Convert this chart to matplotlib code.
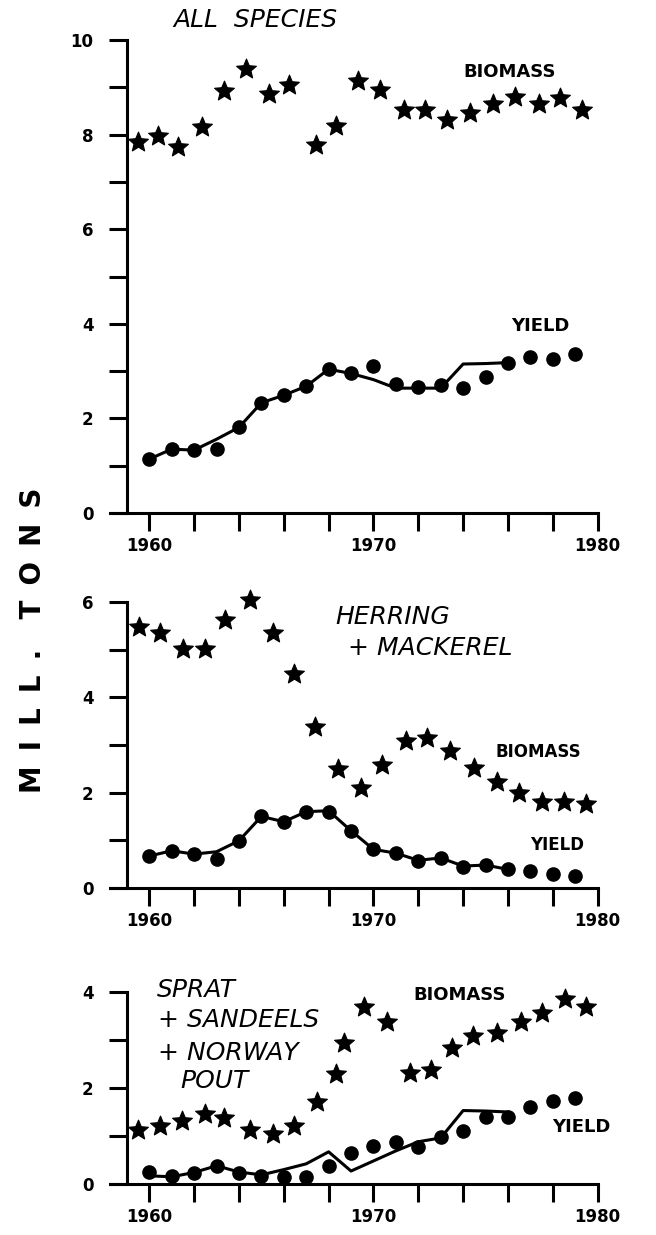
import matplotlib
matplotlib.use("Agg")
import matplotlib.pyplot as plt
from matplotlib.path import Path

W, H = 656, 1235

# data in million tons
yield_years = list(range(1960, 1980))
line_years = list(range(1960, 1977))

# all species
all_bio_x = [1959.5, 1960.4, 1961.3, 1962.35, 1963.35, 1964.3, 1965.35, 1966.25, 1967.45, 1968.35,
             1969.3, 1970.3, 1971.35, 1972.3, 1973.3, 1974.3, 1975.35, 1976.3, 1977.4, 1978.3, 1979.3]
all_bio = [7.85, 7.97, 7.74, 8.17, 8.93, 9.38, 8.86, 9.05, 7.78, 8.18,
           9.14, 8.94, 8.53, 8.52, 8.31, 8.45, 8.65, 8.80, 8.65, 8.77, 8.53]
all_yield = [1.14, 1.35, 1.33, 1.35, 1.81, 2.33, 2.49, 2.68, 3.04, 2.97,
             3.11, 2.73, 2.66, 2.71, 2.64, 2.88, 3.18, 3.29, 3.25, 3.36]
all_line = [1.14, 1.35, 1.33, 1.56, 1.81, 2.33, 2.49, 2.68, 3.04, 2.95,
            2.82, 2.64, 2.64, 2.64, 3.15, 3.16, 3.18]

# herring + mackerel
her_bio_x = [1959.55, 1960.5, 1961.5, 1962.5, 1963.4, 1964.5, 1965.5, 1966.45, 1967.4, 1968.4,
             1969.45, 1970.4, 1971.45, 1972.4, 1973.4, 1974.5, 1975.5, 1976.5, 1977.5, 1978.5, 1979.5]
her_bio = [5.47, 5.35, 5.02, 5.02, 5.63, 6.04, 5.35, 4.49, 3.38, 2.50,
           2.09, 2.57, 3.09, 3.14, 2.88, 2.52, 2.23, 2.00, 1.81, 1.81, 1.76]
her_yield = [0.67, 0.78, 0.71, 0.60, 0.99, 1.50, 1.39, 1.60, 1.60, 1.20,
             0.81, 0.73, 0.57, 0.62, 0.45, 0.48, 0.39, 0.36, 0.29, 0.25]
her_line = [0.67, 0.78, 0.71, 0.76, 0.99, 1.50, 1.39, 1.60, 1.62, 1.20,
            0.81, 0.73, 0.58, 0.63, 0.46, 0.48, 0.39]

# sprat + sandeels + norway pout
spr_bio_x = [1959.5, 1960.5, 1961.45, 1962.5, 1963.35, 1964.5, 1965.5, 1966.45, 1967.5, 1968.35, 1968.7,
             1969.6, 1970.6, 1971.65, 1972.55, 1973.5, 1974.45, 1975.5, 1976.6, 1977.5, 1978.55, 1979.5]
spr_bio = [1.12, 1.21, 1.32, 1.46, 1.38, 1.13, 1.04, 1.21, 1.70, 2.29, 2.93,
           3.68, 3.38, 2.32, 2.38, 2.83, 3.08, 3.14, 3.38, 3.57, 3.85, 3.69]
spr_yield = [0.24, 0.16, 0.23, 0.38, 0.22, 0.17, 0.15, 0.15, 0.37, 0.65,
             0.80, 0.88, 0.78, 0.97, 1.11, 1.39, 1.40, 1.61, 1.72, 1.79]
spr_line = [0.17, 0.15, 0.24, 0.38, 0.25, 0.19, 0.30, 0.42, 0.67, 0.27,
            0.48, 0.69, 0.88, 0.96, 1.53, 1.52, 1.50]

star = Path.unit_regular_star(5, 0.45)


def px(x, y):
    return x / W, 1 - y / H


def panel(rect, ymax, bio_x, bio, yld, line):
    ax = fig.add_axes(rect)
    ax.plot(line_years, line, color='black', lw=2.2, zorder=2)
    ax.plot(yield_years, yld, 'o', color='black', ms=9.5, clip_on=False, zorder=3)
    ax.plot(bio_x, bio, ls='none', marker=star, color='black', ms=15, mew=0.8,
            clip_on=False, zorder=3)
    ax.set_xlim(1958.25, 1980)
    ax.set_ylim(0, ymax)
    ax.spines[['top', 'right']].set_visible(False)
    ax.spines['left'].set_position(('data', 1959))
    ax.spines[['left', 'bottom']].set_linewidth(2.2)
    xt = list(range(1960, 1981, 2))
    ax.set_xticks(xt, labels=[str(y) if y % 10 == 0 else '' for y in xt])
    ax.set_yticks(range(0, ymax + 1, 2))
    ax.set_yticks(range(0, ymax + 1), minor=True)
    ax.tick_params(which='both', direction='out', length=13, width=2.2)
    ax.tick_params(axis='y', which='major', pad=11, labelsize=12)
    ax.tick_params(axis='x', pad=4, labelsize=12)
    for t in ax.get_xticklabels() + ax.get_yticklabels():
        t.set_fontweight('bold')
    return ax


fig = plt.figure(figsize=(W / 100, H / 100), dpi=100)

panel([0.1677, 0.5846, 0.7434, 0.3830], 10, all_bio_x, all_bio, all_yield, all_line)
panel([0.1677, 0.2810, 0.7434, 0.2316], 6, her_bio_x, her_bio, her_yield, her_line)
panel([0.1677, 0.0413, 0.7434, 0.1555], 4, spr_bio_x, spr_bio, spr_yield, spr_line)

title_kw = dict(fontsize=18, style='italic', ha='left', va='center')
fig.text(*px(173, 20), 'ALL  SPECIES', **title_kw)
fig.text(*px(335, 617), 'HERRING', **title_kw)
fig.text(*px(348, 648), '+ MACKEREL', **title_kw)
fig.text(*px(157, 990), 'SPRAT', **title_kw)
fig.text(*px(158, 1020), '+ SANDEELS', **title_kw)
fig.text(*px(158, 1053), '+ NORWAY', **title_kw)
fig.text(*px(180, 1081), 'POUT', **title_kw)

lab_kw = dict(fontweight='bold', ha='center', va='center')
fig.text(*px(510, 72), 'BIOMASS', fontsize=13, **lab_kw)
fig.text(*px(540, 326), 'YIELD', fontsize=13, **lab_kw)
fig.text(*px(538, 752), 'BIOMASS', fontsize=12, **lab_kw)
fig.text(*px(557, 845), 'YIELD', fontsize=12, **lab_kw)
fig.text(*px(460, 995), 'BIOMASS', fontsize=13, **lab_kw)
fig.text(*px(581, 1127), 'YIELD', fontsize=13, **lab_kw)

sp = ' \u2009'
fig.text(*px(33, 640), sp.join('MILL.') + sp + sp + sp.join('TONS'), rotation=90,
         fontsize=20, **lab_kw)

fig.savefig('out.png', dpi=100)
